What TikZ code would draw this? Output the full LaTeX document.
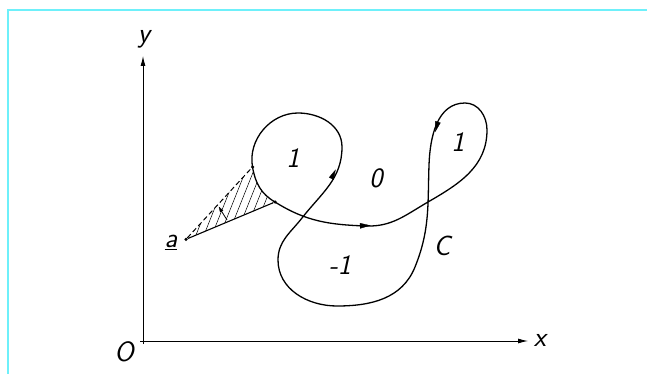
\documentclass[tikz,border=0pt]{standalone}
\usetikzlibrary{arrows.meta}
\definecolor{framecyan}{RGB}{110,240,250}
\begin{document}
\begin{tikzpicture}[x=1pt,y=-1pt,
  lbl/.style={font=\fontsize{28}{30}\selectfont\sffamily\itshape, inner sep=0pt},
  curve/.style={line width=1.3pt},
  axis/.style={line width=0.9pt, -{Latex[length=10pt,width=5pt]}},
  head/.style={fill=black, draw=black, line width=0.3pt, line join=miter},
  dot/.style={circle, fill, inner sep=0pt, minimum size=3.5pt}]
\useasboundingbox (0,0) rectangle (647,374);
\draw[framecyan, line width=1.6pt] (8,374) -- (8,10) -- (647,10);

% axes
\coordinate (ybot) at (143,344);
\coordinate (ytip) at (143,56);
\coordinate (xleft) at (140,341);
\coordinate (xtip) at (528,341);
\draw[axis] (ybot) -- (ytip);
\draw[axis] (xleft) -- (xtip);
\node[lbl] (ylab) at (144,39) {y};
\node[lbl] (xlab) at (540,340) {x};
\node[lbl] (olab) at (124,352) {O};

% points
\node[dot] (a) at (186,239.3) {};
\node[dot] (ud) at (252.5,167) {};
\node[dot] (ld) at (275,202) {};
\node[lbl] (alab) at (171,242) {\underline{a}};

% hatched sector
\begin{scope}
  \clip (186,239.3) -- (252.5,167) to[out=-80,in=150] (275,202) -- cycle;
  \foreach \i in {0,...,15}
    \draw[line width=0.5pt] (150+8*\i,250) -- ++(40,-100);
\end{scope}
\draw[line width=1pt, dash pattern=on 5pt off 3pt] (a) -- (ud);
\draw[line width=1.1pt] (a) -- (ld);
% small normal arrow
\coordinate (nbase) at (227,220);
\coordinate (nmid) at (221.6,211.3);
\draw[line width=0.8pt] (nbase) -- (nmid);
\fill[head] (219,207) -- (223,210.5) -- (220.2,212.1) -- cycle;

% curve C
\draw[curve] (275,202) to[out=-32,in=178] (366,226)
  to[out=-2,in=210] (428,202)
  to[out=30,in=-90] (487,130)
  to[out=90,in=0] (465,103)
  to[out=180,in=88] (429,165)
  to[out=-92,in=68] (415,267)
  to[out=-112,in=0] (337,306)
  to[out=180,in=-90] (278,260)
  to[out=90,in=232] (302,218)
  to[out=52,in=-90] (342,147)
  to[out=90,in=0] (298,113)
  to[out=180,in=100] (252.5,167)
  to[out=-80,in=150] (275,202);

% direction arrowheads along C
\fill[head] (370,225.5) -- (360,223.2) -- (360.2,228.4) -- cycle;
\fill[head] (435.3,131.5) -- (440.4,122.8) -- (435.4,121.2) -- cycle;
\fill[head] (335.4,170) -- (333.6,179.6) -- (329.2,177.4) -- cycle;

% region labels
\node[lbl] (l1) at (293,158) {1};
\node[lbl] (l0) at (376,178) {0};
\node[lbl] (l1b) at (458,142) {1};
\node[lbl] (lm1) at (340,265) {-1};
\node[lbl] (lC) at (442,246) {C};
\end{tikzpicture}
\end{document}
